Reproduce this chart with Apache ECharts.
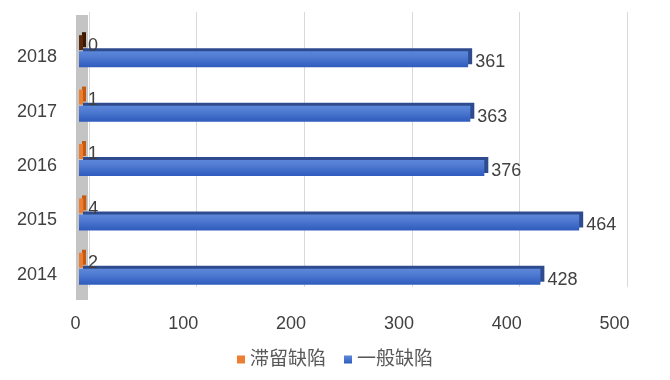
<!DOCTYPE html>
<html>
<head>
<meta charset="utf-8">
<script src="https://cdn.jsdelivr.net/npm/echarts@6/dist/echarts.min.js"></script>
<style>html,body{margin:0;padding:0;background:#fff}#c{width:670px;height:380px}</style>
</head>
<body>
<div id="c"></div>
<script>
const categories = ['2014', '2015', '2016', '2017', '2018'];
const stuckDefects = [2, 4, 1, 1, 0];
const generalDefects = [428, 464, 376, 363, 361];
const xTicks = [0, 100, 200, 300, 400, 500];
const seriesNames = ['滞留缺陷', '一般缺陷'];

const chart = echarts.init(document.getElementById('c'));
const font = '"Liberation Sans", Arial, "Noto Sans CJK SC", sans-serif';
const txt = '#404040';

const blueGrad = new echarts.graphic.LinearGradient(0, 0, 0, 1, [
  {offset: 0, color: '#5c87d9'},
  {offset: 0.35, color: '#4f7bd2'},
  {offset: 1, color: '#2e5bbd'}
]);

chart.setOption({
  animation: false,
  textStyle: {fontFamily: font},
  legend: {
    data: seriesNames,
    bottom: 6,
    left: 'center',
    itemWidth: 8,
    itemHeight: 8,
    icon: 'rect',
    itemGap: 18,
    textStyle: {fontSize: 19, color: '#595959', fontFamily: font}
  },
  grid: [
    {left: 79, right: 52, top: 24, bottom: 84},
    {left: 89, right: 43, top: 12, bottom: 93},
    {left: 82, right: 43, top: 15, bottom: 80}
  ],
  xAxis: [
    {
      gridIndex: 0, type: 'value', min: xTicks[0], max: xTicks[xTicks.length - 1], interval: 100,
      axisLine: {show: false}, axisTick: {show: false}, splitLine: {show: false},
      axisLabel: {fontSize: 18, color: txt, margin: 19, fontFamily: font,
        formatter: v => '{a|' + v + '}', rich: {a: {fontSize: 18, color: txt, fontFamily: font, padding: [0, 7, 0, 0]}}}
    },
    {
      gridIndex: 1, type: 'value', min: xTicks[0], max: xTicks[xTicks.length - 1], interval: 100,
      axisLine: {show: false}, axisTick: {show: false}, axisLabel: {show: false},
      splitLine: {show: true, lineStyle: {color: '#d9d9d9', width: 1}}
    },
    {
      gridIndex: 2, type: 'value', min: 0, max: 1, show: false
    }
  ],
  yAxis: [
    {
      gridIndex: 0, type: 'category', data: categories,
      axisLine: {show: false}, axisTick: {show: false},
      axisLabel: {color: txt, margin: 22,
        formatter: v => '{a|' + v + '}', rich: {a: {fontSize: 18, color: txt, fontFamily: font, padding: [12, 0, 0, 0]}}}
    },
    {
      gridIndex: 1, type: 'category', data: categories,
      axisLine: {show: false}, axisTick: {show: false}, axisLabel: {show: false}, splitLine: {show: false}
    },
    {
      gridIndex: 2, type: 'category', data: categories,
      axisLine: {show: true, lineStyle: {color: '#c4c4c4', width: 12, cap: 'butt'}},
      axisTick: {show: false}, axisLabel: {show: false}, splitLine: {show: false}
    }
  ],
  series: [
    {
      name: seriesNames[0], type: 'bar', xAxisIndex: 0, yAxisIndex: 0,
      data: stuckDefects.map(v => v === 0 ? {value: v, itemStyle: {color: '#5a2a0a', shadowColor: '#3a1a05'}} : v),
      barWidth: 15, barGap: '7%', barMinHeight: 4,
      itemStyle: {color: '#ED7D31', shadowColor: '#c55a11', shadowOffsetX: 3, shadowOffsetY: -3, shadowBlur: 0},
      label: {show: true, position: 'right', distance: 5, fontSize: 18, color: txt, fontFamily: font, offset: [0, 3]}
    },
    {
      name: seriesNames[1], type: 'bar', xAxisIndex: 0, yAxisIndex: 0,
      data: generalDefects,
      barWidth: 16,
      itemStyle: {color: blueGrad, shadowColor: '#2d4b8e', shadowOffsetX: 4, shadowOffsetY: -3, shadowBlur: 0},
      label: {show: true, position: 'right', distance: 7, fontSize: 18, color: txt, fontFamily: font, offset: [0, 3]}
    }
  ]
});
</script>
</body>
</html>
